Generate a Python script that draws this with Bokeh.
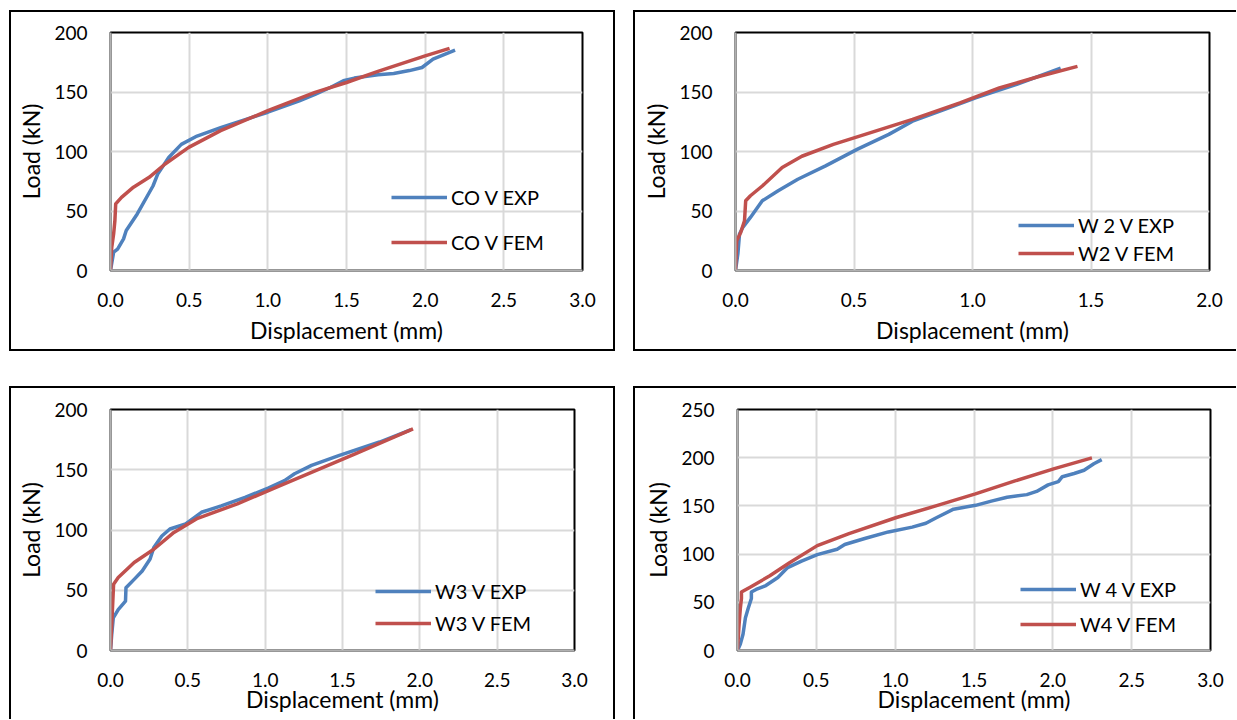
from bokeh.plotting import figure
from bokeh.layouts import column, row
from bokeh.models import (Range1d, FixedTicker, NumeralTickFormatter, Legend,
                          LegendItem, Spacer)
from bokeh.embed import file_html
from bokeh.resources import INLINE

# ---------------- data ----------------
co_exp_x = [0, 0.02, 0.045, 0.083, 0.10, 0.17, 0.27, 0.30, 0.37, 0.45, 0.55, 0.70, 0.90, 1.00,
            1.20, 1.30, 1.40, 1.48, 1.55, 1.70, 1.80, 1.90, 1.98, 2.05, 2.19]
co_exp_y = [0, 15.4, 18, 26.6, 33.6, 47.5, 71, 81, 95, 106, 113, 120, 128.7, 133,
            142.6, 148, 154, 159.4, 161.7, 164.5, 165.6, 168, 170.6, 177.6, 185.2]
co_fem_x = [0, 0.008, 0.02, 0.028, 0.033, 0.07, 0.146, 0.246, 0.347, 0.497, 0.70, 1.0,
            1.30, 1.50, 1.70, 2.0, 2.155]
co_fem_y = [0, 19.6, 30.8, 42, 56, 61.5, 70, 78.3, 89.5, 103.5, 117.5, 134.3,
            149.7, 158, 167.3, 180.4, 186.6]

w2_exp_x = [0, 0.01, 0.017, 0.03, 0.063, 0.113, 0.18, 0.263, 0.38, 0.513, 0.647, 0.747,
            0.88, 1.013, 1.18, 1.372]
w2_exp_y = [0, 14, 30.7, 36, 44.6, 58.6, 67, 76.7, 87.9, 101.8, 114.4, 125.5,
            135.3, 145, 156, 170]
w2_fem_x = [0, 0.005, 0.022, 0.038, 0.043, 0.063, 0.113, 0.197, 0.28, 0.413, 0.547, 0.747,
            0.947, 1.113, 1.28, 1.443]
w2_fem_y = [0, 25, 32, 41.8, 58.6, 62.8, 71, 86.5, 96, 106, 114.4, 127,
            140.9, 153.4, 163, 171.5]

w3_exp_x = [0, 0.008, 0.018, 0.05, 0.097, 0.10, 0.153, 0.205, 0.256, 0.28, 0.332, 0.384,
            0.486, 0.588, 0.716, 0.87, 1.023, 1.125, 1.19, 1.30, 1.48, 1.74, 1.94]
w3_exp_y = [0, 13.3, 27, 34, 41, 52, 59, 66, 76, 85.5, 95, 100.8,
            105, 114.7, 120, 127, 135, 141, 146.7, 153.6, 162, 173, 183]
w3_fem_x = [0, 0.008, 0.02, 0.05, 0.153, 0.28, 0.41, 0.563, 0.82, 1.074, 1.33, 1.586,
            1.84, 1.956]
w3_fem_y = [0, 21.7, 55, 60.5, 73, 84, 98, 109.7, 121.7, 135.5, 149.4, 163.3,
            177.5, 184]

w4_exp_x = [0, 0.018, 0.035, 0.05, 0.068, 0.088, 0.088, 0.118, 0.18, 0.256, 0.318, 0.406,
            0.506, 0.632, 0.68, 0.807, 0.957, 1.108, 1.195, 1.258, 1.37, 1.51, 1.61, 1.71,
            1.835, 1.897, 1.97, 2.035, 2.06, 2.135, 2.198, 2.26, 2.31]
w4_exp_y = [0, 6.7, 16.8, 33.7, 43.8, 54, 60.6, 63.3, 67.4, 75.8, 86, 92.7,
            99.4, 105, 110, 116.2, 123, 128, 132, 137.5, 146.6, 150.6, 155, 159,
            161.7, 165, 171.8, 175.2, 180.3, 183.6, 187, 193.7, 198]
w4_fem_x = [0, 0.01, 0.018, 0.025, 0.025, 0.08, 0.205, 0.33, 0.506, 0.707, 1.008, 1.258,
            1.509, 1.76, 2.01, 2.248]
w4_fem_y = [0, 27, 43.8, 54, 60.6, 65.7, 77.5, 91, 108.8, 121.3, 138, 150,
            162.4, 175.9, 188.7, 199.8]

labels_co = ["CO V EXP", "CO V FEM"]
labels_w2 = ["W 2 V EXP", "W2 V FEM"]
labels_w3 = ["W3 V EXP", "W3 V FEM"]
labels_w4 = ["W 4 V EXP", "W4 V FEM"]

x_ticks_3 = [0, 0.5, 1.0, 1.5, 2.0, 2.5, 3.0]
x_ticks_2 = [0, 0.5, 1.0, 1.5, 2.0]
y_ticks_200 = [0, 50, 100, 150, 200]
y_ticks_250 = [0, 50, 100, 150, 200, 250]

x_title = "Displacement (mm)"
y_title = "Load (kN)"

BLUE = "#4f81bd"
RED = "#c0504d"
FONT = "Lato"


def panel(w, h, bl, br, bt, bb, xmax, ymax, xt, yt, exp, fem, labels,
          leg_loc, leg_spacing, xlab_standoff, styles):
    p = figure(width=w, height=h, x_range=Range1d(0, xmax), y_range=Range1d(0, ymax),
               output_backend="svg", toolbar_location=None,
               min_border_left=bl, min_border_right=br, min_border_top=bt,
               min_border_bottom=bb, background_fill_color="white",
               border_fill_color="white", styles=styles)
    p.outline_line_color = "black"
    p.outline_line_width = 2

    p.xaxis.ticker = FixedTicker(ticks=xt)
    p.yaxis.ticker = FixedTicker(ticks=yt)
    p.xaxis.formatter = NumeralTickFormatter(format="0.0")
    p.xgrid.ticker = FixedTicker(ticks=xt)
    p.ygrid.ticker = FixedTicker(ticks=yt)
    for g in (p.xgrid, p.ygrid):
        g.grid_line_color = "#d9d9d9"
        g.grid_line_width = 2
    for ax in (p.xaxis, p.yaxis):
        ax.major_tick_line_color = None
        ax.minor_tick_line_color = None
        ax.major_tick_out = 0
        ax.major_tick_in = 0
        ax.axis_line_color = "#b0b0b0"
        ax.axis_line_width = 2
        ax.major_label_text_font = FONT
        ax.major_label_text_font_size = "19px"
        ax.major_label_text_color = "black"
        ax.axis_label_text_font = FONT
        ax.axis_label_text_font_size = "23px"
        ax.axis_label_text_font_style = "normal"
        ax.axis_label_text_color = "black"
    p.xaxis.major_label_standoff = 22
    p.yaxis.major_label_standoff = 23
    p.yaxis.axis_label = y_title
    p.yaxis.axis_label_standoff = 6
    p.xaxis.axis_label = x_title
    p.xaxis.axis_label_standoff = xlab_standoff

    r1 = p.line(exp[0], exp[1], line_color=BLUE, line_width=3.5, line_join="round")
    r2 = p.line(fem[0], fem[1], line_color=RED, line_width=3.5, line_join="round")
    leg = Legend(items=[LegendItem(label=labels[0], renderers=[r1]),
                        LegendItem(label=labels[1], renderers=[r2])],
                 location=leg_loc, padding=0, margin=0, spacing=leg_spacing,
                 glyph_width=56, glyph_height=20, label_height=20, label_standoff=4,
                 border_line_color=None, background_fill_alpha=0,
                 label_text_font=FONT, label_text_font_size="20px",
                 label_text_color="black")
    p.add_layout(leg)
    return p


B = "2px solid black"
p1 = panel(606, 341, 99, 35, 20, 83, 3.0, 200, x_ticks_3, y_ticks_200,
           (co_exp_x, co_exp_y), (co_fem_x, co_fem_y), labels_co,
           (281, 16), 21, 6, {"border": B})
p2 = panel(603, 341, 100, 29, 19, 83, 2.0, 200, x_ticks_2, y_ticks_200,
           (w2_exp_x, w2_exp_y), (w2_fem_x, w2_fem_y), labels_w2,
           (283, 5), 4, 6,
           {"border-top": B, "border-left": B, "border-bottom": B})
p3 = panel(606, 333, 99, 43, 21, 71, 3.0, 200, x_ticks_3, y_ticks_200,
           (w3_exp_x, w3_exp_y), (w3_fem_x, w3_fem_y), labels_w3,
           (265, 15), 8, -5,
           {"border-top": B, "border-left": B, "border-right": B})
p4 = panel(603, 333, 102, 28, 15, 67, 3.0, 250, x_ticks_3, y_ticks_250,
           (w4_exp_x, w4_exp_y), (w4_fem_x, w4_fem_y), labels_w4,
           (283, 14), 11, -5,
           {"border-top": B, "border-left": B})

layout = column(
    Spacer(width=1, height=10),
    row(Spacer(width=9, height=1), p1, Spacer(width=18, height=1), p2),
    Spacer(width=1, height=35),
    row(Spacer(width=9, height=1), p3, Spacer(width=18, height=1), p4),
)

open("out.html", "w").write(file_html(layout, INLINE))
